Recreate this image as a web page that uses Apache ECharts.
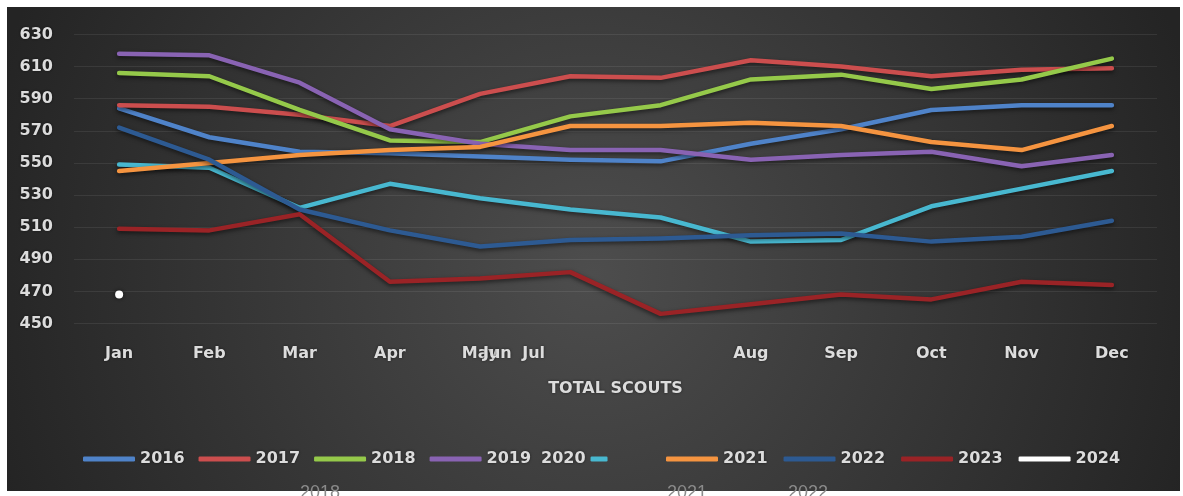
<!DOCTYPE html>
<html><head><meta charset="utf-8">
<script src="https://cdn.jsdelivr.net/npm/echarts@6/dist/echarts.min.js"></script>
<style>html,body{margin:0;padding:0;background:#fff;}#c{width:1183px;height:496px;}</style>
</head><body><div id="c"></div>
<script>
const months = ['Jan','Feb','Mar','Apr','May','Jun','Jul','Aug','Sep','Oct','Nov','Dec'];
const yTicks = [450, 470, 490, 510, 530, 550, 570, 590, 610, 630];
const years = ['2016','2017','2018','2019','2020','2021','2022','2023','2024'];
const y2016 = [584, 566, 557, 556, 554, 552, 551, 562, 571, 583, 586, 586];
const y2017 = [586, 585, 580, 573, 593, 604, 603, 614, 610, 604, 608, 609];
const y2018 = [606, 604, 583, 564, 563, 579, 586, 602, 605, 596, 602, 615];
const y2019 = [618, 617, 600, 571, 562, 558, 558, 552, 555, 557, 548, 555];
const y2020 = [549, 547, 522, 537, 528, 521, 516, 501, 502, 523, 534, 545];
const y2021 = [545, 550, 555, 558, 560, 573, 573, 575, 573, 563, 558, 573];
const y2022 = [572, 552, 521, 508, 498, 502, 503, 505, 506, 501, 504, 514];
const y2023 = [509, 508, 518, 476, 478, 482, 456, 462, 468, 465, 476, 474];
const y2024 = [468, null, null, null, null, null, null, null, null, null, null, null];
const axisTitle = 'TOTAL SCOUTS';
const stray = [{t:'2018', x:320}, {t:'2021', x:687}, {t:'2022', x:808}];

const colors = ['#4f83c9','#cc4e4e','#95c94a','#8963b3','#48b8d0','#f59440','#2d5a92','#9a2326','#ffffff'];
const allData = [y2016,y2017,y2018,y2019,y2020,y2021,y2022,y2023,y2024];
const FONT = 'DejaVu Sans';
const txt = {color:'#dcdcdc', fontFamily:FONT, fontWeight:'bold', fontSize:16,
  textShadowColor:'rgba(0,0,0,0.55)', textShadowBlur:3};

const chart = echarts.init(document.getElementById('c'));
const series = years.map((y,i)=>({
  name:y, type:'line', data:allData[i],
  symbol: i===8 ? 'circle' : 'none', symbolSize: 8, showSymbol: i===8,
  itemStyle:{color:colors[i], shadowColor:'rgba(0,0,0,0.6)', shadowBlur:4},
  lineStyle:{width:4.5, color:colors[i], cap:'round', join:'round',
    shadowColor:'rgba(0,0,0,0.55)', shadowBlur:4, shadowOffsetY:2},
  z: 3
}));
const legendBase = {orient:'horizontal', top:446, itemWidth:52, itemHeight:5, icon:'roundRect',
  itemStyle:{borderWidth:0},
  textStyle:Object.assign({}, txt), inactiveColor:'#666'};
chart.setOption({
  animation:false,
  backgroundColor:'#ffffff',
  color: colors,
  graphic:[
    {type:'rect', shape:{x:7,y:7,width:1173,height:484}, z:-10, silent:true,
     style:{fill:{type:'radial', x:0.5, y:0.55, r:1.3, colorStops:[
       {offset:0, color:'#4d4d4d'},{offset:1, color:'#242424'}]}}},
  ].concat(stray.map(s=>({type:'text', x:s.x, y:484, z:100, silent:true,
     style:{text:s.t, fill:'#8a8a8a', font:'18px "Liberation Sans"', textAlign:'center', textVerticalAlign:'top'}}))),
  grid:{left:74, right:26, top:34.5, bottom:496-323.5, containLabel:false},
  legend:[
    Object.assign({}, legendBase, {left:78, itemGap:14, data:['2016','2017','2018','2019']}),
    Object.assign({}, legendBase, {left:536, itemWidth:17, align:'right', data:['2020']}),
    Object.assign({}, legendBase, {left:661, itemGap:16, data:['2021','2022','2023','2024']})
  ],
  xAxis:{type:'category', data:months, boundaryGap:true,
    name:axisTitle, nameLocation:'middle', nameGap:57,
    nameTextStyle:Object.assign({}, txt),
    axisLine:{show:false}, axisTick:{show:false}, splitLine:{show:false},
    axisLabel:Object.assign({}, txt, {margin:22, interval:0,
      formatter:(v,i)=> i===5 ? '{j|'+v+'}' : (i===6 ? '{k|'+v+'}' : v),
      rich:{
        j:Object.assign({}, txt, {padding:[0,146,0,0]}),
        k:Object.assign({}, txt, {padding:[0,254,0,0]})
      }})
  },
  yAxis:{type:'value', min:yTicks[0], max:yTicks[yTicks.length-1], interval:20,
    axisLine:{show:false}, axisTick:{show:false},
    splitLine:{show:true, lineStyle:{color:'rgba(255,255,255,0.08)', width:1}},
    axisLabel:Object.assign({}, txt, {margin:21})
  },
  series: series
});
</script></body></html>
